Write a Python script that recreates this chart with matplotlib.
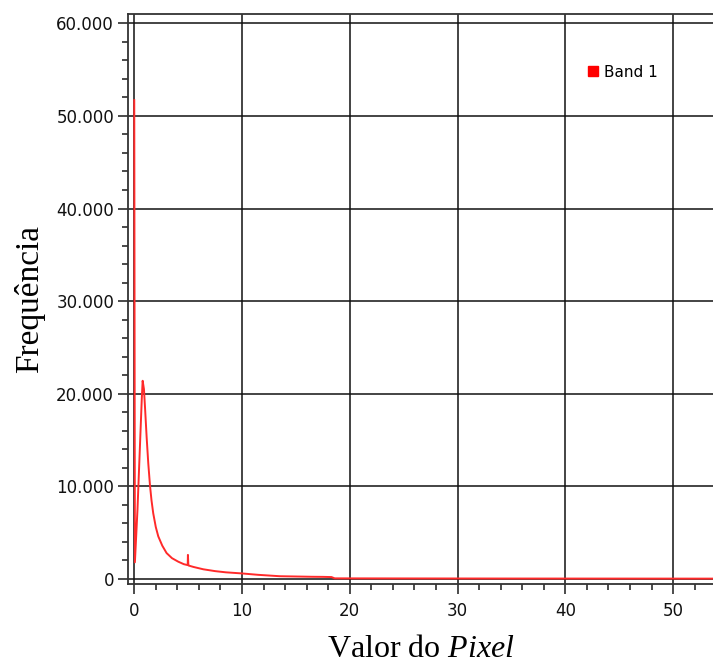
import matplotlib
matplotlib.use("Agg")
import matplotlib.pyplot as plt
from matplotlib.ticker import MultipleLocator, FuncFormatter
from matplotlib.lines import Line2D

# Histogram curve (pixel value, frequency)
pixel_values = [0.0, 0.06, 0.3, 0.5, 0.7, 0.78, 0.9, 1.0, 1.15, 1.3, 1.46, 1.6,
                1.76, 2.0, 2.23, 2.6, 3.0, 3.5, 4.08, 4.6, 4.96, 4.98, 5.02,
                5.05, 5.5, 6.4, 7.5, 8.5, 10.0, 11.5, 13.5, 14.5, 15.5, 16.5,
                17.5, 18.3, 18.6, 25.0, 35.0, 45.0, 54.0]
frequency = [51700, 1800, 7500, 13500, 19500, 21400, 20500, 18500, 15300,
             12500, 10100, 8500, 7100, 5600, 4600, 3600, 2800, 2250, 1870,
             1600, 1500, 2600, 1480, 1450, 1300, 1050, 850, 720, 600, 450,
             300, 280, 260, 240, 230, 210, 70, 60, 50, 45, 40]
series_name = "Band 1"
x_ticks = [0, 10, 20, 30, 40, 50]
y_ticks = [0, 10000, 20000, 30000, 40000, 50000, 60000]

plt.rcParams['font.family'] = ['DejaVu Sans']
plt.rcParams['mathtext.fontset'] = 'custom'
plt.rcParams['mathtext.rm'] = 'Liberation Serif'
plt.rcParams['mathtext.it'] = 'Liberation Serif:italic'

fig = plt.figure(figsize=(7.13, 6.64), dpi=100)
ax = fig.add_axes([128/713, 1-584/664, 1-128/713, (584-14)/664])

ax.plot(pixel_values, frequency, color='#ff2a2a', lw=1.4, solid_joinstyle='round')

ax.set_xlim(-0.58, 53.7)
ax.set_ylim(-540, 61000)
ax.set_xticks(x_ticks)
ax.set_yticks(y_ticks)
ax.xaxis.set_minor_locator(MultipleLocator(2))
ax.yaxis.set_minor_locator(MultipleLocator(2000))
ax.yaxis.set_major_formatter(FuncFormatter(lambda v, p: f"{int(v):,}".replace(",", ".")))

ax.grid(True, which='major', color='#111111', lw=1.1)
ax.set_axisbelow(True)
ax.tick_params(axis='both', which='major', length=7, width=1.1, color='#1a1a1a',
               labelsize=12, labelcolor='#111111', pad=3)
ax.tick_params(axis='x', which='major', pad=6)
ax.tick_params(axis='both', which='minor', length=4, width=1.1, color='#1a1a1a')
ax.spines['right'].set_visible(False)
for s in ['left', 'bottom', 'top']:
    ax.spines[s].set_color('#333333')
    ax.spines[s].set_linewidth(1.3)

ax.set_ylabel('Frequência', family='Liberation Serif', fontsize=24, labelpad=8)
ax.set_xlabel('Valor do $\\mathit{Pixel}$', family='Liberation Serif', fontsize=23, labelpad=11)

handle = Line2D([], [], marker='s', color='#ff0000', ls='none', markersize=7)
ax.legend([handle], [series_name], loc='upper left', bbox_to_anchor=(0.772, 0.922),
          frameon=False, fontsize=11, handletextpad=0.2, handlelength=1.0,
          borderaxespad=0)

fig.savefig('out.png', dpi=100)
